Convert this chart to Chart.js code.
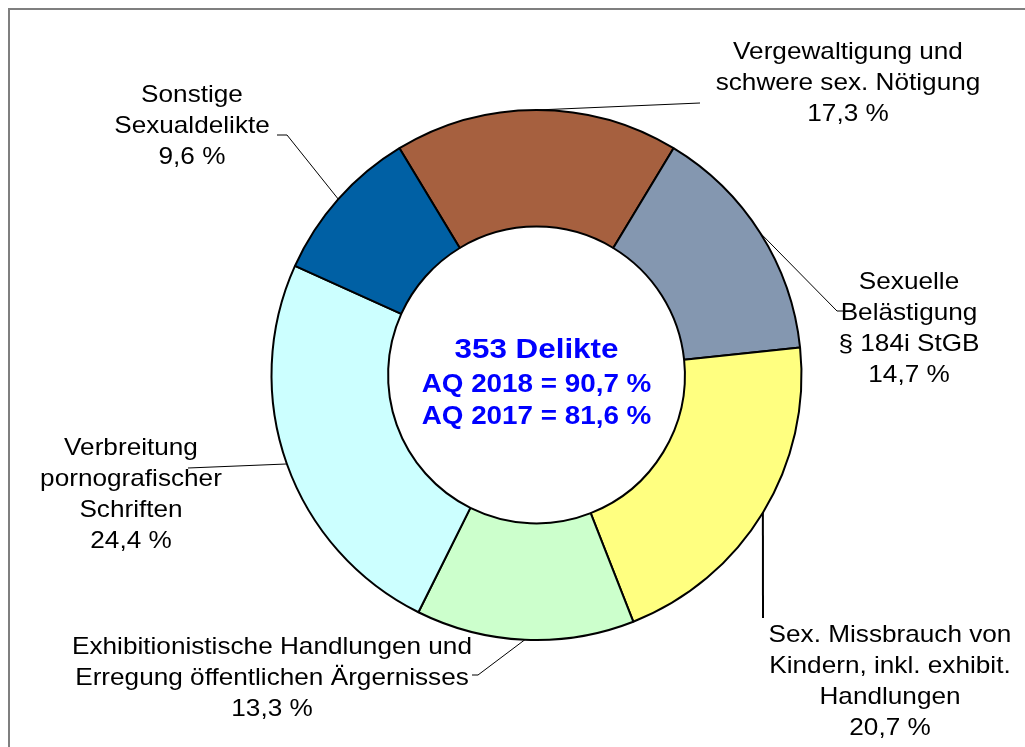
<!DOCTYPE html>
<html>
<head>
<meta charset="utf-8">
<script src="https://cdn.jsdelivr.net/npm/chart.js@4/dist/chart.umd.min.js"></script>
<style>
  html, body { margin: 0; padding: 0; background: #fff; }
  #wrap { position: relative; width: 1025px; height: 747px; }
</style>
</head>
<body>
<div id="wrap"><canvas id="delikteChart" width="1025" height="747"></canvas></div>
<script>
// Anteile der Sexualdelikte (im Uhrzeigersinn ab oben)
const categories = [
  ["Vergewaltigung und", "schwere sex. Nötigung"],
  ["Sexuelle", "Belästigung", "§ 184i StGB"],
  ["Sex. Missbrauch von", "Kindern, inkl. exhibit.", "Handlungen"],
  ["Exhibitionistische Handlungen und", "Erregung öffentlichen Ärgernisses"],
  ["Verbreitung", "pornografischer", "Schriften"],
  ["Sonstige", "Sexualdelikte"],
];
const shares = [17.3, 14.7, 20.7, 13.3, 24.4, 9.6];
const centerLines = ["353 Delikte", "AQ 2018 = 90,7 %", "AQ 2017 = 81,6 %"];

const colors = ["#A6603F", "#8497B0", "#FFFF80", "#CCFFCC", "#CCFFFF", "#0060A4"];

// label layout: text centre x, first baseline, leader end point
const labelLayout = [
  { x: 848, y: 59, end: [[700, 103]] },
  { x: 909, y: 289, end: [[837, 311], [845, 311]] },
  { x: 890, y: 642, end: [[763, 618]], lw: 2 },
  { x: 272, y: 654, end: [[478, 675], [472, 675]] },
  { x: 131, y: 455, end: [[188, 468]] },
  { x: 192, y: 102, end: [[287, 135], [277, 135]] },
];

function fmt(v) {
  return v.toFixed(1).replace(".", ",") + " %";
}

const LINE_H = 31;

const labelPlugin = {
  id: "labels",
  beforeDraw(chart) {
    const ctx = chart.ctx;
    ctx.save();
    ctx.strokeStyle = "#7f7f7f";
    ctx.lineWidth = 2;
    ctx.beginPath();
    ctx.moveTo(9, chart.height + 5);
    ctx.lineTo(9, 9);
    ctx.lineTo(chart.width + 5, 9);
    ctx.stroke();
    ctx.restore();
  },
  afterDraw(chart) {
    const ctx = chart.ctx;
    const arcs = chart.getDatasetMeta(0).data;
    ctx.save();
    arcs.forEach((arc, i) => {
      const mid = (arc.startAngle + arc.endAngle) / 2;
      const ax = arc.x + Math.cos(mid) * arc.outerRadius;
      const ay = arc.y + Math.sin(mid) * arc.outerRadius;
      const lay = labelLayout[i];
      ctx.strokeStyle = "#000";
      ctx.lineWidth = lay.lw || 1;
      ctx.beginPath();
      ctx.moveTo(ax, ay);
      lay.end.forEach(p => ctx.lineTo(p[0], p[1]));
      ctx.stroke();

      const lines = categories[i].concat([fmt(shares[i])]);
      ctx.fillStyle = "#000";
      ctx.font = "24px 'Liberation Sans', Arial, sans-serif";
      ctx.textAlign = "center";
      ctx.textBaseline = "alphabetic";
      lines.forEach((t, k) => {
        ctx.save();
        ctx.translate(lay.x, lay.y + k * LINE_H);
        ctx.scale(1.09, 1);
        ctx.fillText(t, 0, 0);
        ctx.restore();
      });
    });

    // Mitte: Anzahl und Aufklärungsquoten
    const cx = arcs[0].x;
    ctx.fillStyle = "#0000FF";
    ctx.textAlign = "center";
    const baselines = [358, 392, 424];
    const sizes = [28.5, 26, 26];
    centerLines.forEach((t, k) => {
      ctx.font = "bold " + sizes[k] + "px 'Liberation Sans', Arial, sans-serif";
      ctx.save();
      ctx.translate(cx, baselines[k]);
      ctx.scale(k === 0 ? 1.1 : 1.07, 1);
      ctx.fillText(t, 0, 0);
      ctx.restore();
    });
    ctx.restore();
  },
};

new Chart(document.getElementById("delikteChart").getContext("2d"), {
  type: "doughnut",
  data: {
    labels: categories.map(c => c.join(" ")),
    datasets: [
      {
        data: shares,
        backgroundColor: colors,
        borderColor: "#000",
        borderWidth: 2,
      },
    ],
  },
  options: {
    responsive: false,
    animation: false,
    rotation: -shares[0] / 100 * 180,
    cutout: "56%",
    radius: 265,
    layout: { padding: { left: 48, right: 0, top: 3, bottom: 0 } },
    plugins: {
      legend: { display: false },
      tooltip: { enabled: false },
    },
  },
  plugins: [labelPlugin],
});
</script>
</body>
</html>
